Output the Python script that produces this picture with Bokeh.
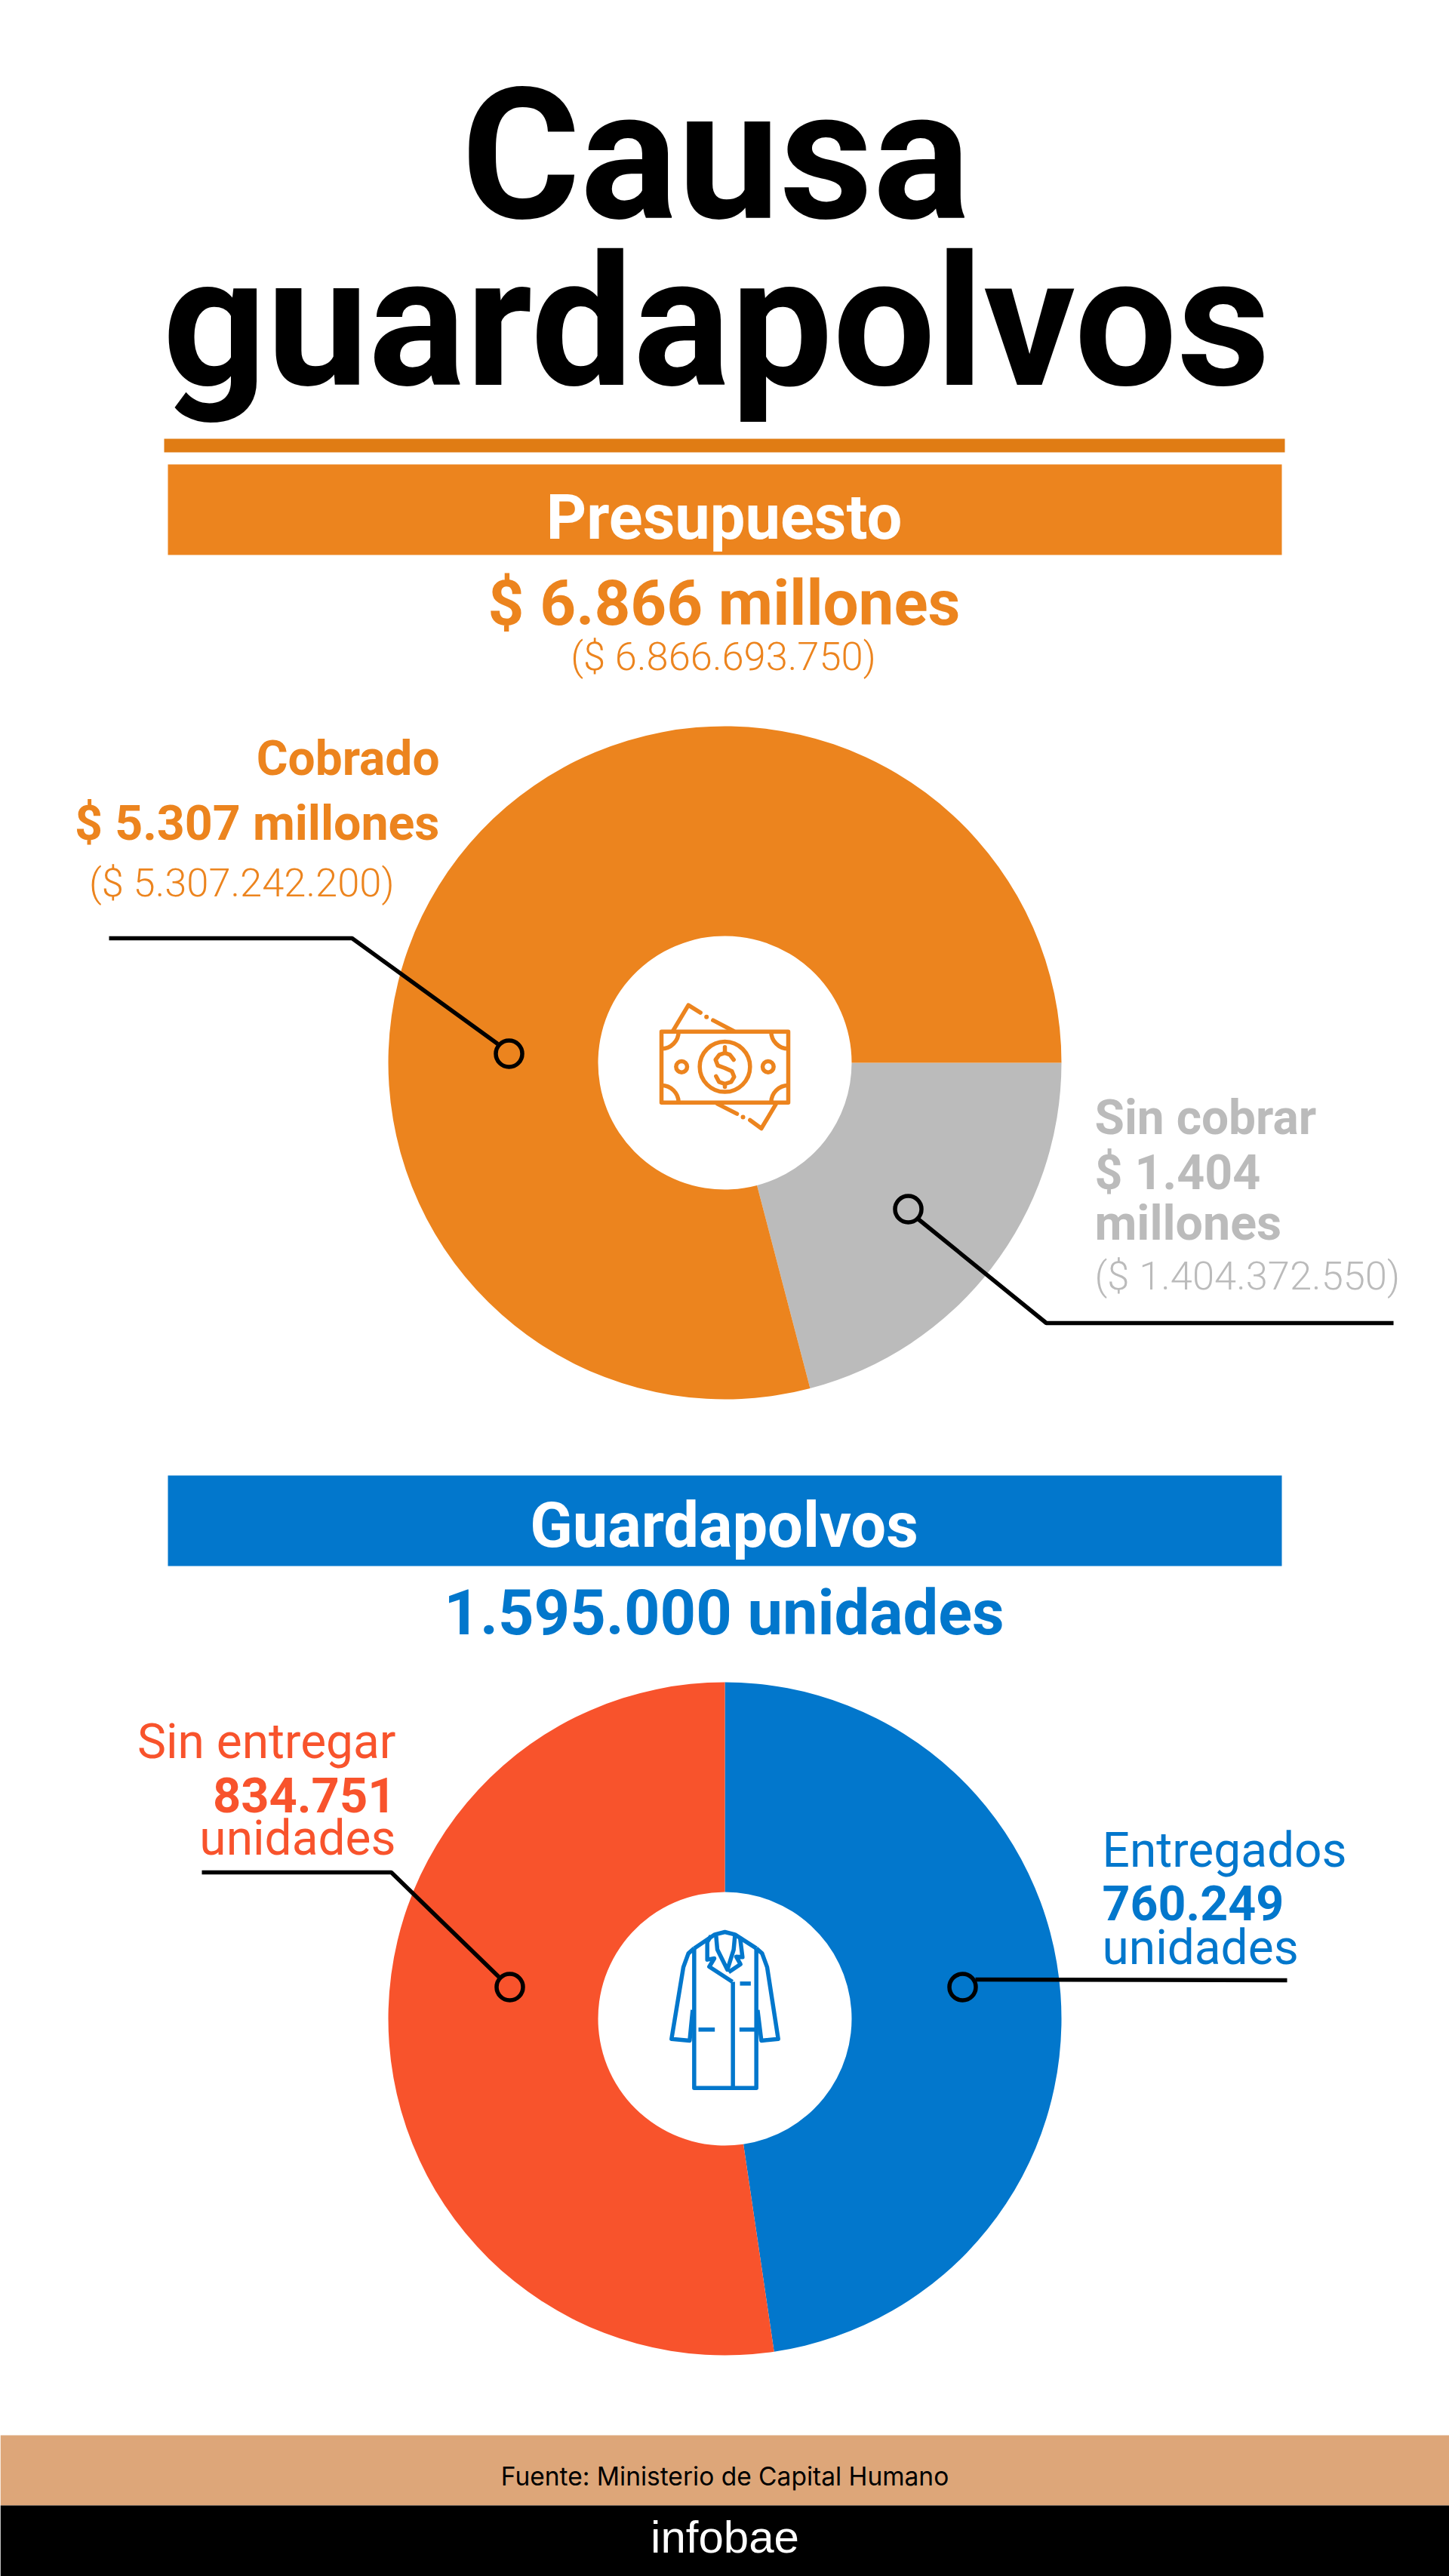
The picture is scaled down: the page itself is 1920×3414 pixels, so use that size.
from math import pi
from bokeh.plotting import figure
from bokeh.models import Range1d
from bokeh.core.properties import value
from bokeh.embed import file_html
from bokeh.resources import INLINE

# ---------- data ----------
budget_labels = ["Cobrado", "Sin cobrar"]
budget_values = [5307242200, 1404372550]
budget_colors = ["#EC841E", "#BBBBBB"]
gown_labels = ["Entregados", "Sin entregar"]
gown_values = [760249, 834751]
gown_colors = ["#0277CC", "#F8532C"]

W, H = 1920, 3414
ORANGE, GRAY, BLUE, RED = "#EC841E", "#BBBBBB", "#0277CC", "#F8532C"
BASE_K = 0.33  # baseline correction, in ems
STROKE = 5.5


def Y(py):
    return H - py


p = figure(width=W, height=H, output_backend="svg", toolbar_location=None,
           x_range=Range1d(0, W), y_range=Range1d(0, H), min_border=0,
           outline_line_color=None, background_fill_color="white", border_fill_color="white")
p.axis.visible = False
p.grid.visible = False


def band(x0, x1, y0, y1, color):
    p.quad(left=[x0], right=[x1], top=[Y(y0)], bottom=[Y(y1)], fill_color=color, line_color=None)


def txt(x, y, s, size, color, align="left", font="Roboto", style="normal"):
    p.text([x], [Y(y - BASE_K * size)], text=[s], text_font=value(font), text_font_size=f"{size}px",
           text_font_style=style, text_color=color, text_align=align, text_baseline="alphabetic")


def donut(cx, cy, labels, values, colors, first_start_deg):
    total = sum(values)
    a = first_start_deg * pi / 180
    for v, c in zip(values, colors):
        b = a - v / total * 2 * pi
        p.annular_wedge([cx], [Y(cy)], inner_radius=168, outer_radius=446, start_angle=b, end_angle=a,
                        fill_color=c, line_color=None)
        a = b


def leader(xs, ys, cx, cy):
    p.line(xs, [Y(v) for v in ys], line_color="black", line_width=STROKE)
    p.circle([cx], [Y(cy)], radius=17.5, fill_color=None, line_color="black", line_width=STROKE)


# ---------- header ----------
band(217, 1702, 581, 599, "#E07C14")
band(222, 1698, 615, 735, ORANGE)
txt(948, 286, "Causa", 241, "black", "center", style="bold")
txt(949, 507, "guardapolvos", 241, "black", "center", style="bold")
txt(959, 712, "Presupuesto", 83, "white", "center", style="bold")
txt(959, 827, "$ 6.866 millones", 83.5, ORANGE, "center", style="bold")
txt(958, 887, "($ 6.866.693.750)", 52.5, ORANGE, "center", font="Roboto Light")

# ---------- donut 1 ----------
donut(960, 1408, budget_labels, budget_values[::-1], budget_colors[::-1], 0)
txt(582, 1026, "Cobrado", 64, ORANGE, "right", style="bold")
txt(582, 1112, "$ 5.307 millones", 64.5, ORANGE, "right", style="bold")
txt(522, 1187, "($ 5.307.242.200)", 52.5, ORANGE, "right", font="Roboto Light")
leader([144, 466, 659], [1243, 1243, 1383], 674, 1396)
txt(1450, 1502, "Sin cobrar", 64, GRAY, style="bold")
txt(1450, 1575, "$ 1.404", 64.5, GRAY, style="bold")
txt(1450, 1642, "millones", 64.5, GRAY, style="bold")
txt(1450, 1708, "($ 1.404.372.550)", 52.5, GRAY, font="Roboto Light")
leader([1216, 1386, 1846], [1615, 1753, 1753], 1203, 1602)

# money icon, traced in a 3x crop whose origin is (760,1300)
MX, MY, MS = 760, 1300, 3
money_lines = [
    [(348, 200), (852, 200), (852, 482), (348, 482), (348, 200)],
    [(392, 200), (455, 95), (503, 125)],
    [(553, 155), (635, 198)],
    [(570, 487), (648, 527)],
    [(700, 552), (745, 585), (805, 485)],
    [(635, 312), (620, 292), (600, 285), (578, 292), (563, 312), (572, 335), (600, 345),
     (628, 358), (637, 380), (625, 400), (600, 408), (577, 400), (565, 378)],
    [(600, 262), (600, 285)],
    [(600, 408), (600, 420)],
]
for ln in money_lines:
    p.line([MX + q[0] / MS for q in ln], [Y(MY + q[1] / MS) for q in ln], line_color=ORANGE, line_width=STROKE,
           line_cap="round", line_join="round")
for qx, qy, r in [(600, 340, 100), (428, 340, 22), (772, 340, 22)]:
    p.circle([MX + qx / MS], [Y(MY + qy / MS)], radius=r / MS, fill_color=None, line_color=ORANGE, line_width=STROKE)
for qx, qy, a0, a1 in [(348, 200, -90, 0), (852, 200, 180, 270), (348, 482, 0, 90), (852, 482, 90, 180)]:
    p.arc([MX + qx / MS], [Y(MY + qy / MS)], radius=68 / MS, start_angle=a0 * pi / 180, end_angle=a1 * pi / 180,
          line_color=ORANGE, line_width=STROKE)
for qx, qy in [(527, 142), (672, 540)]:
    p.circle([MX + qx / MS], [Y(MY + qy / MS)], radius=3, fill_color=ORANGE, line_color=None)

# ---------- second section ----------
band(222, 1698, 1955, 2075, BLUE)
txt(959, 2048, "Guardapolvos", 83, "white", "center", style="bold")
txt(959, 2164, "1.595.000 unidades", 83, BLUE, "center", style="bold")

donut(960, 2675, gown_labels, gown_values, gown_colors, 90)
txt(524, 2329, "Sin entregar", 64, RED, "right")
txt(524, 2400, "834.751", 65, RED, "right", style="bold")
txt(524, 2457, "unidades", 64, RED, "right")
leader([267, 518, 661], [2481, 2481, 2620], 675, 2633)
txt(1460, 2473, "Entregados", 64, BLUE)
txt(1460, 2543, "760.249", 64.5, BLUE, style="bold")
txt(1460, 2602, "unidades", 64, BLUE)
leader([1292, 1705], [2623, 2624], 1275, 2633)

# coat icon, traced in a 3x crop whose origin is (760,2500)
CX, CY, CS = 760, 2500, 3
coat_lines = [
    [(478, 245), (478, 800), (725, 800), (725, 245)],
    [(478, 245), (560, 190), (600, 180), (640, 190), (725, 245)],
    [(478, 245), (455, 265), (435, 320), (388, 605), (460, 612), (472, 490)],
    [(725, 245), (748, 265), (768, 320), (812, 605), (745, 612), (730, 490)],
    [(565, 195), (570, 250), (610, 330), (635, 250), (640, 195)],
    [(545, 195), (530, 220), (530, 290), (558, 285), (538, 318), (630, 378)],
    [(660, 200), (670, 280), (645, 278), (662, 308), (615, 340)],
    [(632, 378), (632, 800)],
    [(660, 385), (703, 385)],
    [(495, 568), (560, 568)],
    [(658, 568), (725, 568)],
]
for ln in coat_lines:
    p.line([CX + q[0] / CS for q in ln], [Y(CY + q[1] / CS) for q in ln], line_color=BLUE, line_width=STROKE,
           line_join="round")

# ---------- footer ----------
band(0, W, 3227, 3320, "#DDA679")
band(0, W, 3320, H, "black")
txt(960, 3293, "Fuente: Ministerio de Capital Humano", 33.5, "black", "center", font="Inter")
txt(960, 3382, "infobae", 60, "white", "center", font="Liberation Sans")

open("out.html", "w").write(file_html(p, INLINE))
